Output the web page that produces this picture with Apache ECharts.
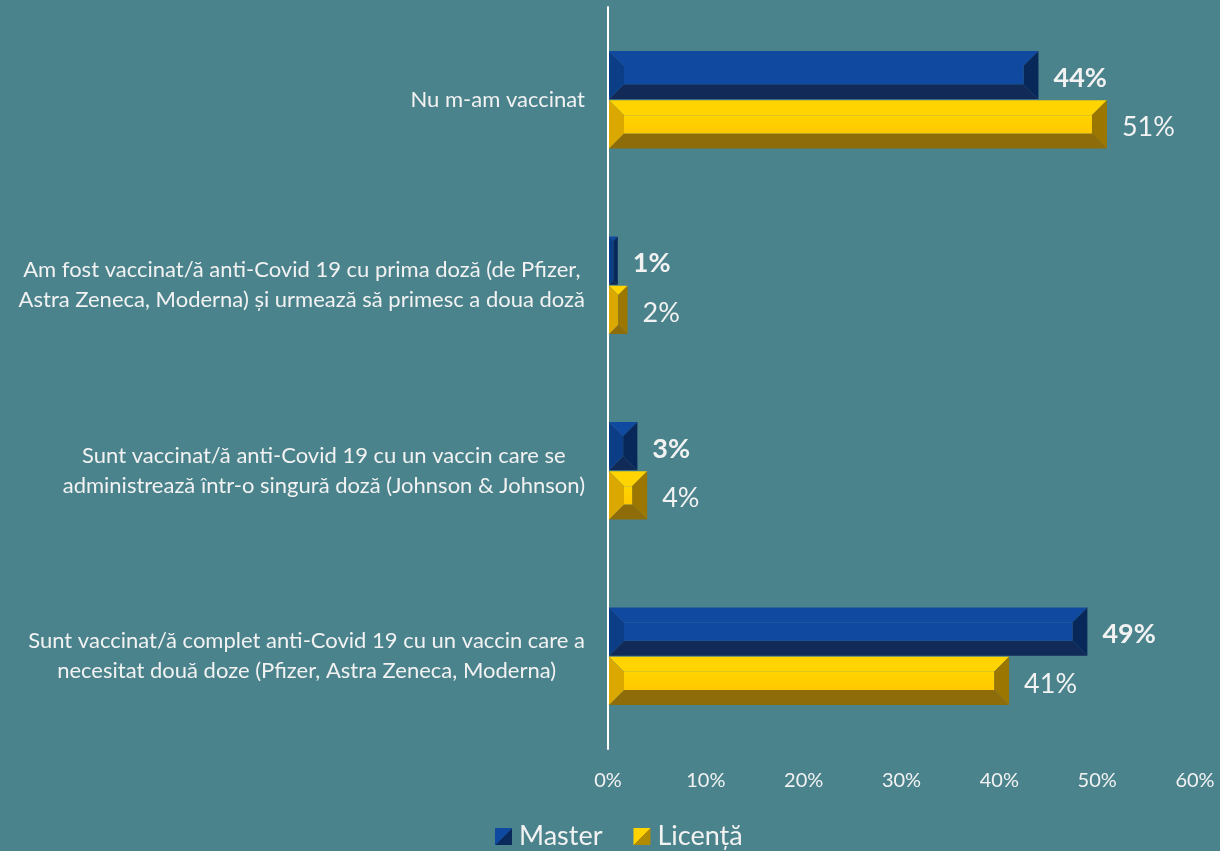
<!DOCTYPE html>
<html><head><meta charset="utf-8">
<script src="https://cdn.jsdelivr.net/npm/echarts@6/dist/echarts.min.js"></script>
<style>html,body{margin:0;padding:0;background:#4a838c;}#c{width:1220px;height:851px;}</style>
</head><body><div id="c"></div>
<script>
const categories = [
  "Nu m-am vaccinat",
  "Am fost vaccinat/ă anti-Covid 19 cu prima doză (de Pfizer,\nAstra Zeneca, Moderna) și urmează să primesc a doua doză",
  "Sunt vaccinat/ă anti-Covid 19 cu un vaccin care se\nadministrează într-o singură doză (Johnson & Johnson)",
  "Sunt vaccinat/ă complet anti-Covid 19 cu un vaccin care a\nnecesitat două doze (Pfizer, Astra Zeneca, Moderna)"
];
const seriesNames = ["Master", "Licență"];
const masterValues = [44, 1, 3, 49];
const licentaValues = [51, 2, 4, 41];
const xTicks = [0, 10, 20, 30, 40, 50, 60];

const FONT = 'Lato, "Open Sans", sans-serif';
const palettes = [
  {front:'#1049a0', top:'#1049a0', left:'#0c3d87', right:'#08285a', bottom:'#112a57', weight:'bold'},
  {front:{type:'linear',x:0,y:0,x2:0,y2:1,colorStops:[{offset:0,color:'#ffd400'},{offset:1,color:'#ffc800'}]},
   top:'#ffd400', left:'#dba800', right:'#9b7600', bottom:'#8d6c09', weight:'normal'}
];

function makeRender(si){
  return function(params, api){
    const v = api.value(0), ci = api.value(1);
    const p0 = api.coord([0, ci]);
    const p1 = api.coord([v, ci]);
    const band = api.size([0, 1])[1];
    const h = band * 0.26;
    const yc = p0[1];
    const y0 = si === 0 ? yc - h - 0.5 : yc + 0.5;
    const y1 = y0 + h;
    const x0 = p0[0] + 1, x1 = p1[0];
    const w = x1 - x0;
    const b = Math.max(0, Math.min(15, w / 2, h / 2));
    const c = palettes[si];
    const poly = (pts, fill) => ({type:'polygon', shape:{points:pts}, style:{fill:fill}, silent:true});
    const children = [
      poly([[x0,y0],[x1,y0],[x1-b,y0+b],[x0+b,y0+b]], c.top),
      poly([[x0,y1],[x1,y1],[x1-b,y1-b],[x0+b,y1-b]], c.bottom),
      poly([[x0,y0],[x0+b,y0+b],[x0+b,y1-b],[x0,y1]], c.left),
      poly([[x1,y0],[x1-b,y0+b],[x1-b,y1-b],[x1,y1]], c.right),
      {type:'rect', shape:{x:x0+b, y:y0+b, width:Math.max(0,w-2*b), height:Math.max(0,h-2*b)}, style:{fill:c.front}, silent:true},
      {type:'text', style:{text: v + '%', x: x1 + 15, y: (y0+y1)/2 + 3, verticalAlign:'middle', align:'left',
        fill:'#f2f2f2', fontSize:27, fontWeight:c.weight, fontFamily:FONT}, silent:true}
    ];
    return {type:'group', children:children};
  };
}

function diag(c1, c2){
  return {type:'linear', x:0, y:0, x2:1, y2:1, colorStops:[{offset:0,color:c1},{offset:0.5,color:c1},{offset:0.5,color:c2},{offset:1,color:c2}]};
}

const chart = echarts.init(document.getElementById('c'), null, {renderer:'canvas'});
chart.setOption({
  backgroundColor:'#4a838c',
  animation:false,
  grid:{left:608, right:25, top:7, bottom:102, containLabel:false},
  legend:{
    bottom:-4, left:490, itemWidth:17, itemHeight:17, itemGap:31,
    textStyle:{color:'#f2f2f2', fontSize:27, fontFamily:FONT, padding:[0,0,0,2]},
    data:[
      {name:seriesNames[0], icon:'rect', itemStyle:{color:diag('#1049a0','#0a2a5c')}},
      {name:seriesNames[1], icon:'rect', itemStyle:{color:diag('#ffd200','#b08a00')}}
    ]
  },
  xAxis:{
    type:'value', min:0, max:60, interval:10,
    axisLine:{show:false}, axisTick:{show:false}, splitLine:{show:false},
    axisLabel:{color:'#f2f2f2', fontSize:20, fontFamily:FONT, margin:22, formatter: v => v + '%',
      customValues: xTicks}
  },
  yAxis:{
    type:'category', inverse:true, data:categories,
    axisLine:{show:true, lineStyle:{color:'#ffffff', width:2}}, axisTick:{show:false},
    axisLabel:{margin:23, align:'right', fontFamily:FONT, color:'#f2f2f2', fontSize:22, lineHeight:30,
      formatter: s => s.split('\n').map(l => '{c|' + l + '}').join('\n'),
      rich:{c:{align:'center', color:'#f2f2f2', fontSize:22, lineHeight:30, fontFamily:FONT}}}
  },
  series:[
    {name:seriesNames[0], type:'custom', renderItem:makeRender(0), encode:{x:0, y:1},
      itemStyle:{color:'#1049a0'}, data: masterValues.map((v,i)=>[v,i])},
    {name:seriesNames[1], type:'custom', renderItem:makeRender(1), encode:{x:0, y:1},
      itemStyle:{color:'#ffd200'}, data: licentaValues.map((v,i)=>[v,i])}
  ]
});
</script></body></html>
